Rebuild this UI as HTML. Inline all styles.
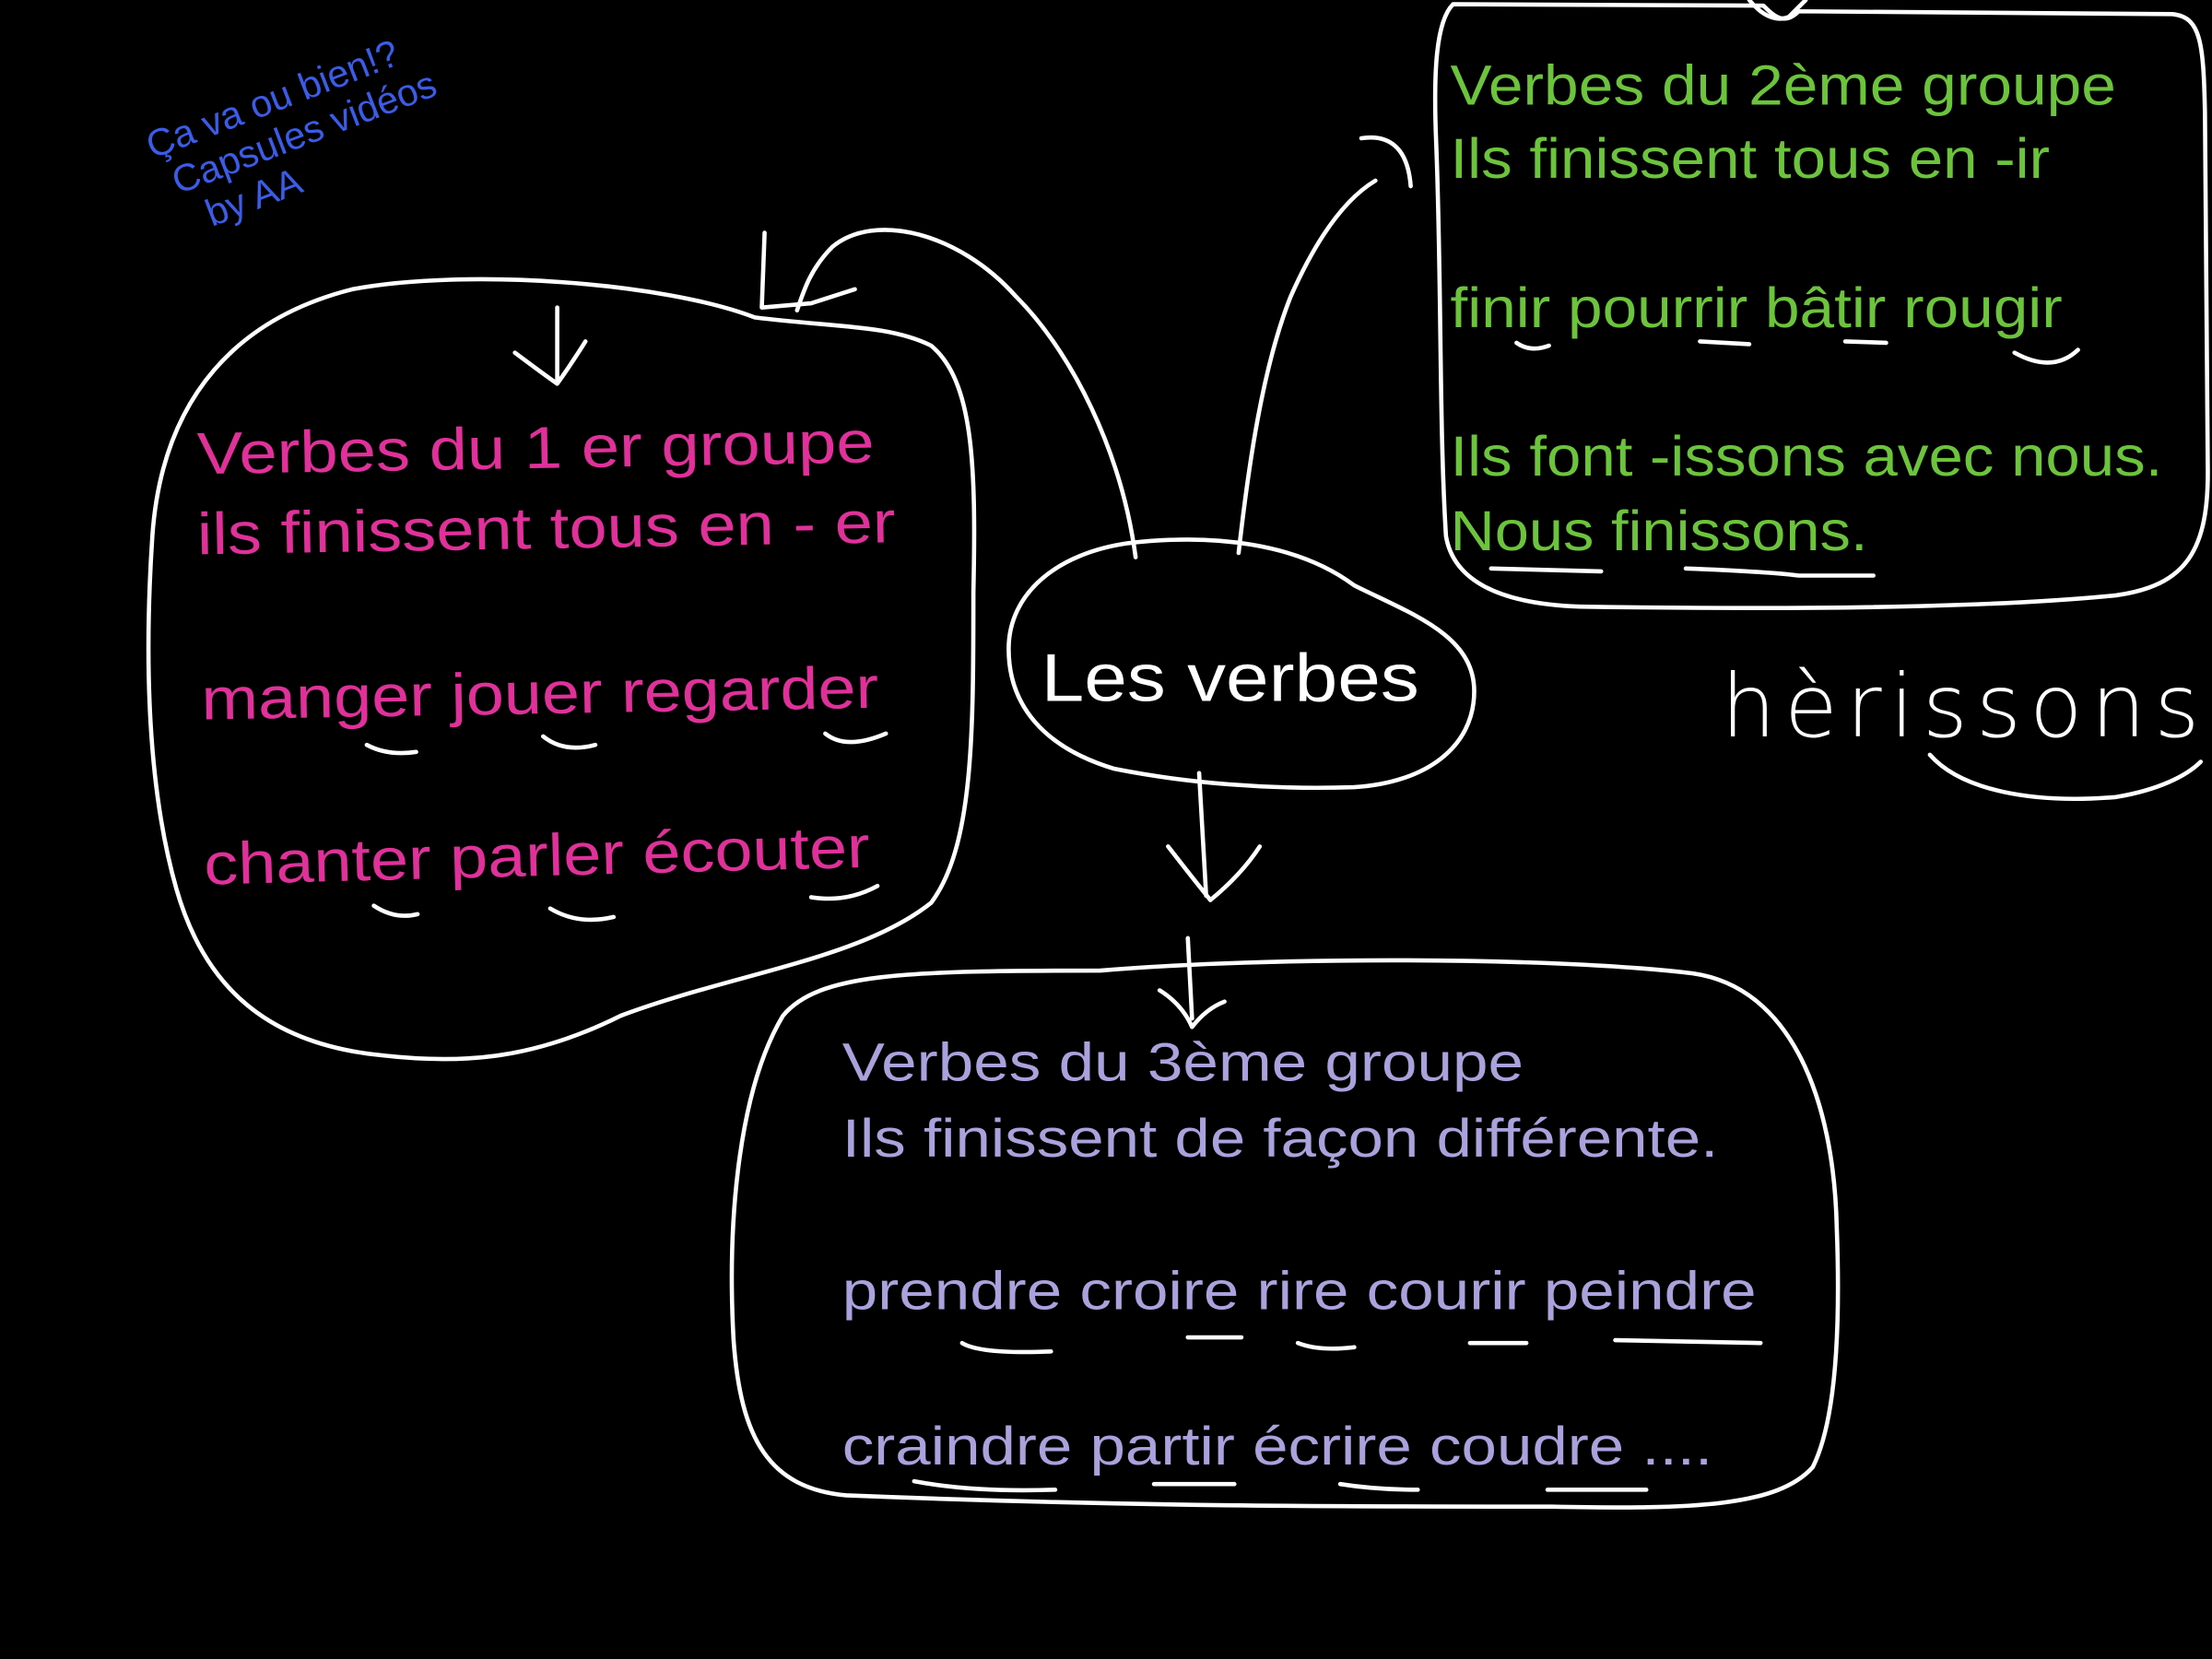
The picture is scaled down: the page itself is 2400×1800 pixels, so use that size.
<!DOCTYPE html>
<html><head><meta charset="utf-8"><style>
html,body{margin:0;padding:0;background:#000;width:2400px;height:1800px;overflow:hidden}
svg{display:block}
text{font-family:"Liberation Sans",sans-serif}
</style></head><body>
<svg width="2400" height="1800" viewBox="0 0 1568 1176" preserveAspectRatio="none" xmlns="http://www.w3.org/2000/svg">
<rect width="1568" height="1176" fill="#000"/>
<g fill="none" stroke="#fff" stroke-width="3" stroke-linecap="round" stroke-linejoin="round">
<path d="M535,225 C470,200 330,190 250,205 C170,225 115,280 108,380 C102,470 105,560 125,630 C145,700 190,740 270,748 C330,755 380,750 440,720 C520,690 610,680 660,640 C690,600 690,520 690,420 C692,330 690,270 660,245 C630,230 590,232 535,225"/>
<path d="M395,218 L395,270 M365,250 Q385,265 395,272 Q405,258 415,242"/>
<path d="M805,395 C795,320 760,250 720,210 C680,165 620,150 590,175 C575,190 570,205 565,220"/>
<path d="M542,165 L540,218 L575,215 L606,205"/>
<path d="M800,385 C860,378 920,385 960,415 C1000,435 1045,450 1045,490 C1045,530 1010,555 960,558 C900,560 840,555 790,545 C740,530 715,500 715,460 C715,420 750,392 800,385"/>
<path d="M878,392 C885,330 895,260 915,210 C935,165 955,140 975,128"/>
<path d="M965,98 C985,95 998,105 1000,132"/>
<path d="M850,548 L855,635 M828,600 Q845,622 858,638 Q880,620 893,600"/>
<path d="M1030,3 L1250,4 C1258,12 1265,18 1275,8 L1540,10 C1560,12 1562,30 1563,80 L1565,330 C1566,390 1550,415 1500,422 C1400,432 1250,432 1120,430 C1060,428 1030,410 1025,380 C1020,300 1022,200 1018,100 C1016,50 1018,15 1030,3"/>
<path d="M1240,0 C1248,10 1258,16 1268,12 L1280,0"/>
<path d="M780,688 C900,678 1100,678 1200,690 C1270,700 1300,780 1302,870 C1305,950 1300,1010 1285,1040 C1260,1068 1200,1070 1100,1068 C950,1068 800,1068 600,1060 C545,1055 525,1020 520,950 C515,860 525,770 555,720 C580,690 640,688 780,688"/>
<path d="M842,665 L845,722 M822,702 Q838,712 845,728 Q855,715 868,710"/>
<path d="M260,528 Q275,536 295,533 M385,522 Q400,534 422,528 M585,520 Q600,532 628,520 M265,642 Q280,652 296,648 M390,644 Q410,656 435,650 M575,636 Q600,640 622,628"/>
<path d="M1075,243 Q1085,250 1098,245 M1205,242 L1240,244 M1308,242 L1337,243 M1428,250 Q1455,265 1473,248 M1057,403 L1135,405 M1195,403 Q1250,405 1275,408 L1328,408"/>
<path d="M682,952 Q695,960 745,958 M842,948 L880,948 M920,952 Q935,958 960,955 M1042,952 L1082,952 M1145,950 L1248,952 M648,1050 Q690,1058 748,1056 M818,1052 L875,1052 M950,1052 Q975,1056 1005,1056 M1097,1056 L1167,1056"/>
<path d="M1368,535 C1390,560 1440,570 1500,565 C1530,560 1550,550 1560,540"/>
</g>
<g fill="#e0309a" font-size="42">
<text x="140" y="336" textLength="480" lengthAdjust="spacingAndGlyphs" transform="rotate(-1 140 336)">Verbes du 1 er groupe</text>
<text x="140" y="393" textLength="495" lengthAdjust="spacingAndGlyphs" transform="rotate(-1 140 393)">ils finissent tous en - er</text>
<text x="143" y="510" textLength="480" lengthAdjust="spacingAndGlyphs" transform="rotate(-1 143 510)">manger jouer regarder</text>
<text x="145" y="627" textLength="472" lengthAdjust="spacingAndGlyphs" transform="rotate(-1.5 145 627)">chanter parler écouter</text>
</g>
<g fill="#6cc43c" font-size="40">
<text x="1028" y="74" textLength="472" lengthAdjust="spacingAndGlyphs">Verbes du 2ème groupe</text>
<text x="1028" y="126" textLength="425" lengthAdjust="spacingAndGlyphs">Ils finissent tous en -ir</text>
<text x="1028" y="232" textLength="434" lengthAdjust="spacingAndGlyphs">finir pourrir bâtir rougir</text>
<text x="1028" y="337" textLength="505" lengthAdjust="spacingAndGlyphs">Ils font -issons avec nous.</text>
<text x="1028" y="390" textLength="296" lengthAdjust="spacingAndGlyphs">Nous finissons.</text>
</g>
<g fill="#a9a2dc" font-size="38">
<text x="597" y="766" textLength="483" lengthAdjust="spacingAndGlyphs">Verbes du 3ème groupe</text>
<text x="597" y="820" textLength="621" lengthAdjust="spacingAndGlyphs">Ils finissent de façon différente.</text>
<text x="597" y="928" textLength="648" lengthAdjust="spacingAndGlyphs">prendre croire rire courir peindre</text>
<text x="597" y="1038" textLength="617" lengthAdjust="spacingAndGlyphs">craindre partir écrire coudre ....</text>
</g>
<text x="738" y="497" fill="#fff" font-size="48" textLength="268" lengthAdjust="spacingAndGlyphs">Les verbes</text>
<text x="1220" y="522" fill="#fff" font-size="62" textLength="345" lengthAdjust="spacingAndGlyphs" style="font-family:'DejaVu Sans',sans-serif;font-weight:200" letter-spacing="6">hèrissons</text>
<g fill="#3a5ce8" font-size="27" transform="rotate(-21 110 112)">
<text x="108" y="112">Ça va ou bien!?</text>
<text x="116" y="142">Capsules vidéos</text>
<text x="130" y="172">by AA</text>
</g>
</svg>
</body></html>
